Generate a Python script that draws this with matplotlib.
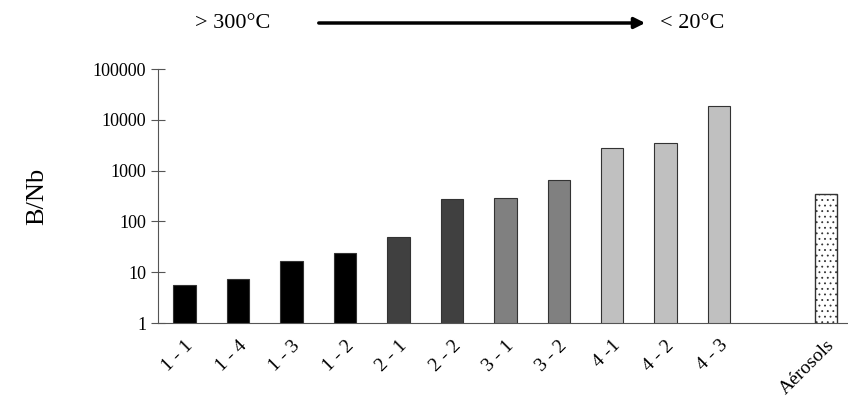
import numpy as np
import matplotlib.pyplot as plt

plt.rcParams['font.family'] = ['Liberation Serif', 'DejaVu Serif']
plt.rcParams['hatch.color'] = '#888888'
plt.rcParams['hatch.linewidth'] = 0.6

# Data
samples = ["1 - 1", "1 - 4", "1 - 3", "1 - 2", "2 - 1", "2 - 2", "3 - 1", "3 - 2", "4 -1", "4 - 2", "4 - 3"]
ratios = [5.6, 7.3, 16.5, 23.5, 50, 280, 295, 640, 2750, 3500, 19000]
groups = [1, 1, 1, 1, 2, 2, 3, 3, 4, 4, 4]
aerosol_label = "Aérosols"
aerosol_value = 340

group_colors = {1: "#000000", 2: "#404040", 3: "#808080", 4: "#c0c0c0"}

fig = plt.figure(figsize=(8.48, 4.17), dpi=100)
ax = fig.add_axes([158/848, 94/417, 700/848, 254/417])

x = np.arange(len(samples))
ax.bar(x, ratios, width=0.42, color=[group_colors[g] for g in groups],
       edgecolor="#333333", linewidth=0.8)
x_aer = len(samples) + 1
ax.bar([x_aer], [aerosol_value], width=0.42, color="white", edgecolor="#333333",
       linewidth=1.0, hatch="...")

ax.set_yscale("log")
ax.set_ylim(1, 100000)
ax.set_xlim(-0.5, 12.6)
ax.set_yticks([1, 10, 100, 1000, 10000, 100000])
ax.set_yticklabels(["1", "10", "100", "1000", "10000", "100000"])
ax.minorticks_off()
ax.set_xticks(list(x) + [x_aer])
ax.set_xticklabels(samples + [aerosol_label], rotation=45, ha="right",
                   rotation_mode="anchor")
ax.tick_params(axis="x", length=0, labelsize=14, pad=10)
ax.tick_params(axis="y", direction="inout", length=10, labelsize=13, color="#555555")
ax.spines["top"].set_visible(False)
ax.spines["right"].set_visible(False)
for s in ["left", "bottom"]:
    ax.spines[s].set_color("#555555")
ax.set_ylabel("B/Nb", fontsize=19, labelpad=32)

# temperature arrow
fig.text(195/848, 1 - 23/417, "> 300°C", fontsize=16, va="center")
fig.text(660/848, 1 - 23/417, "< 20°C", fontsize=16, va="center")
fig.patches.append(plt.matplotlib.patches.FancyArrowPatch(
    (316/848, 1 - 23/417), (648/848, 1 - 23/417), transform=fig.transFigure,
    arrowstyle="-|>", mutation_scale=16, linewidth=2.5, color="black"))

fig.savefig("out.png", dpi=100)
